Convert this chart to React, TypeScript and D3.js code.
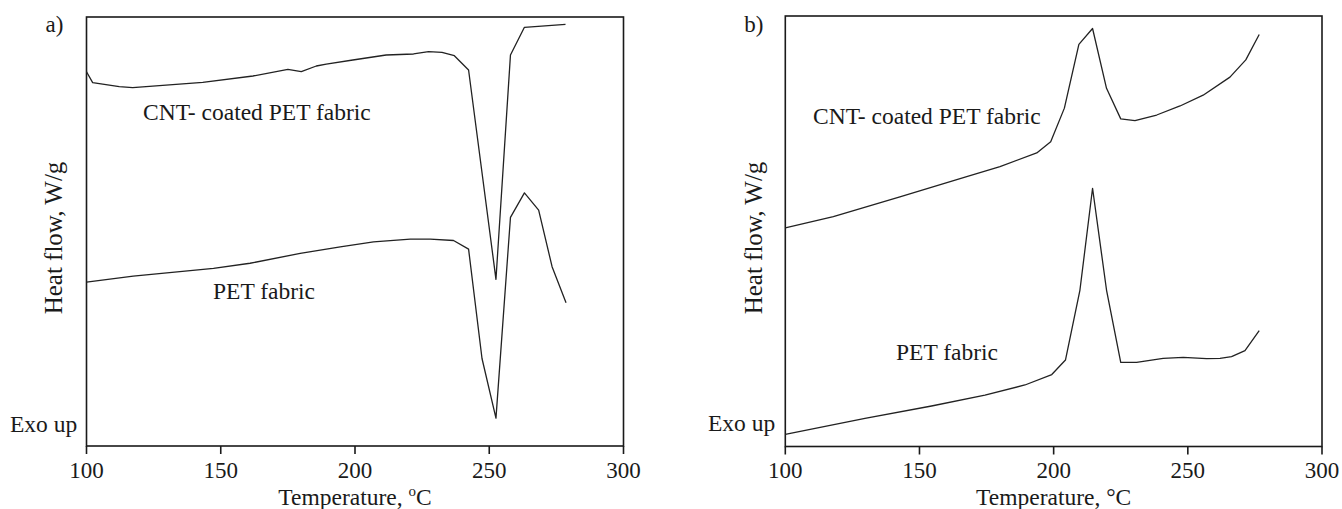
import React from "react";
import * as d3 from "d3";

// Panel a) – temperature (°C) and heat flow (arbitrary units, 0–100 of axis height)
const tempA_CNT = [100, 102.3, 112.2, 117.2, 143.3, 162.0, 175.0, 180.0, 185.6, 189.3, 199.2, 211.6, 221.8, 227.4, 232.4, 237.0, 242.3, 252.5, 257.9, 263.1, 278.4];
const heatA_CNT = [87.25, 84.69, 83.75, 83.52, 84.78, 86.25, 87.81, 87.25, 88.58, 89.04, 89.98, 91.14, 91.38, 91.91, 91.77, 90.98, 87.65, 38.86, 91.14, 97.6, 98.3];

const tempA_PET = [100, 117.4, 147.3, 160.9, 179.6, 194.5, 206.9, 220.6, 228.0, 236.7, 242.3, 247.3, 252.5, 257.9, 263.1, 268.4, 273.4, 278.6];
const heatA_PET = [38.2, 39.6, 41.4, 42.6, 44.9, 46.4, 47.6, 48.2, 48.2, 47.9, 45.9, 20.4, 6.5, 53.3, 59.0, 55.0, 41.8, 33.4];

// Panel b)
const tempB_CNT = [100, 117.9, 142.7, 167.6, 180.0, 193.7, 198.9, 204.0, 209.4, 214.5, 219.7, 225.0, 230.3, 238.4, 247.1, 255.7, 265.7, 271.6, 276.6];
const heatB_CNT = [50.8, 53.4, 58.0, 62.7, 65.0, 68.2, 70.8, 78.6, 93.4, 97.1, 83.2, 76.1, 75.7, 77.0, 79.1, 81.6, 85.8, 89.8, 95.7];

const tempB_PET = [100, 129.7, 154.5, 174.4, 189.3, 199.3, 204.4, 209.8, 214.5, 219.7, 225.0, 230.9, 240.8, 248.3, 257.0, 262.0, 266.3, 271.3, 276.6];
const heatB_PET = [2.83, 6.55, 9.41, 11.96, 14.29, 16.72, 20.09, 36.35, 59.98, 36.35, 19.56, 19.56, 20.49, 20.72, 20.4, 20.49, 20.86, 22.25, 26.9];

const xTicks = [100, 150, 200, 250, 300];
const xDomain: [number, number] = [100, 300];
const yDomain: [number, number] = [0, 100];

const FONT = "'Liberation Serif', 'Times New Roman', serif";

type Series = { t: number[]; h: number[] };

function Panel(props: {
  x0: number; x1: number; y0: number; y1: number;
  letter: string; series: Series[];
  cntLabel: [number, number]; petLabel: [number, number];
  exo: [number, number]; yLabelX: number; superO: boolean;
}) {
  const { x0, x1, y0, y1, letter, series, cntLabel, petLabel, exo, yLabelX, superO } = props;
  const x = d3.scaleLinear().domain(xDomain).range([x0, x1]);
  const y = d3.scaleLinear().domain(yDomain).range([y1, y0]);
  const line = d3.line<[number, number]>().x((d) => x(d[0])).y((d) => y(d[1]));
  const cx = (x0 + x1) / 2;
  return (
    <g>
      <rect x={x0} y={y0} width={x1 - x0} height={y1 - y0} fill="none" stroke="#1a1a1a" strokeWidth={1.6} />
      {xTicks.map((t) => (
        <g key={t}>
          <line x1={x(t)} x2={x(t)} y1={y1} y2={y1 + 8} stroke="#1a1a1a" strokeWidth={1.6} />
          <text x={x(t)} y={478} textAnchor="middle" fontSize={23} fontFamily={FONT} fill="#1a1a1a">{t}</text>
        </g>
      ))}
      {series.map((s, i) => (
        <path key={i} d={line(s.t.map((tt, j) => [tt, s.h[j]] as [number, number])) || ""} fill="none" stroke="#222" strokeWidth={1.3} strokeLinejoin="round" />
      ))}
      <text x={cx} y={505} textAnchor="middle" fontSize={23.5} fontFamily={FONT} fill="#1a1a1a">
        {superO ? (
          <>
            Temperature, <tspan fontSize={15} dy={-9}>o</tspan><tspan dy={9}>C</tspan>
          </>
        ) : (
          "Temperature, °C"
        )}
      </text>
      <text transform={`translate(${yLabelX},${238}) rotate(-90)`} textAnchor="middle" fontSize={25} fontFamily={FONT} fill="#1a1a1a">Heat flow, W/g</text>
      <text x={x0 - 41} y={32} fontSize={23} fontFamily={FONT} fill="#1a1a1a">{letter}</text>
      <text x={cntLabel[0]} y={cntLabel[1]} fontSize={23.5} fontFamily={FONT} fill="#1a1a1a">CNT- coated PET fabric</text>
      <text x={petLabel[0]} y={petLabel[1]} fontSize={23.5} fontFamily={FONT} fill="#1a1a1a">PET fabric</text>
      <text x={exo[0]} y={exo[1]} fontSize={23.5} fontFamily={FONT} fill="#1a1a1a">Exo up</text>
    </g>
  );
}

export default function App() {
  return (
    <svg width={1342} height={509} style={{ position: "absolute", left: 0, top: 0, background: "#fff" }}>
      <rect width={1342} height={509} fill="#fff" />
      <Panel x0={86.5} x1={623.5} y0={17} y1={446} letter="a)"
        series={[{ t: tempA_CNT, h: heatA_CNT }, { t: tempA_PET, h: heatA_PET }]}
        cntLabel={[143, 120]} petLabel={[213, 299]} exo={[10, 432]} yLabelX={62} superO={true} />
      <Panel x0={785.3} x1={1322} y0={16} y1={446.5} letter="b)"
        series={[{ t: tempB_CNT, h: heatB_CNT }, { t: tempB_PET, h: heatB_PET }]}
        cntLabel={[813, 124]} petLabel={[896, 360]} exo={[708, 431]} yLabelX={762} superO={false} />
    </svg>
  );
}
